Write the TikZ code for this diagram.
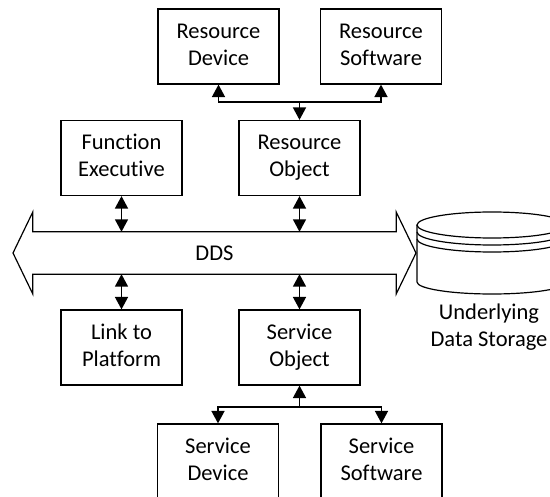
\documentclass[tikz,border=0pt]{standalone}
\usepackage{fontspec}
\setmainfont{Carlito}[Ligatures={NoCommon,NoContextual}]
\usetikzlibrary{arrows.meta}
% line strut: every text line gets the same height and depth
\newcommand{\ls}{\rule[-0.25em]{0pt}{0.95em}}
\begin{document}
\begin{tikzpicture}[x=1pt,y=1pt,
  font=\fontsize{22.5}{27}\selectfont,
  block/.style={draw, line width=1.2pt, minimum width=121pt, minimum height=75pt,
    inner sep=0pt, align=center},
  tip/.tip={Triangle[length=12.5pt,width=13pt]},
  arr/.style={line width=1.6pt, -tip},
  dbl/.style={line width=1.6pt, tip-tip},
  outline/.style={line width=1.2pt, line join=miter}]
\useasboundingbox (0,0) rectangle (550,-497);
\clip (0,0) rectangle (550,-497);

% blocks
\node[block] (rd) at (218.5,-46.5) {\ls Resource\\\ls Device};
\node[block] (rs) at (381,-46.5) {\ls Resource\\\ls Software};
\node[block] (fe) at (121.5,-158) {\ls Function\\\ls Executive};
\node[block] (ro) at (299.5,-158) {\ls Resource\\\ls Object};
\node[block] (lp) at (121.5,-347.5) {\ls Link to\\\ls Platform};
\node[block] (so) at (299.5,-347.5) {\ls Service\\\ls Object};
\node[block] (sd) at (218,-461.5) {\ls Service\\\ls Device};
\node[block] (ss) at (381.5,-461.5) {\ls Service\\\ls Software};

% DDS bus: shaft node plus double-headed outline
\node[minimum width=363pt, minimum height=42pt, inner sep=0pt] (bus) at (214.5,-253) {DDS};
\draw[outline] (13,-253) -- (bus.north west |- 0,-212) -- (bus.north west)
  -- (bus.north east) -- (bus.north east |- 0,-212) -- (416,-253)
  -- (bus.south east |- 0,-294) -- (bus.south east) -- (bus.south west)
  -- (bus.south west |- 0,-294) -- cycle;

% storage cylinder
\draw[outline] (417,-225) -- (417,-282) arc[start angle=180, end angle=360, x radius=75, y radius=12]
  -- (567,-225);
\draw[outline] (492,-225) ellipse[x radius=75, y radius=13];
\draw[outline] (417,-232) arc[start angle=180, end angle=360, x radius=75, y radius=13];
\draw[outline] (417,-239) arc[start angle=180, end angle=360, x radius=75, y radius=13];
\node[align=center, inner sep=0pt] (store) at (489,-327) {Underlying\\Data Storage};

% resource tree
\coordinate (jtop) at (299.5,-102);
\draw[arr] (jtop) -- (ro.north);
\draw[arr] (jtop) -| (rd.south);
\draw[arr] (jtop) -| (rs.south);

% bus links
\draw[dbl] (fe.south) -- (fe.south |- bus.north);
\draw[dbl] (ro.south) -- (ro.south |- bus.north);
\draw[dbl] (lp.north) -- (lp.north |- bus.south);
\draw[dbl] (so.north) -- (so.north |- bus.south);

% service tree
\coordinate (jbot) at (299.5,-407);
\draw[arr] (jbot) -- (so.south);
\draw[arr] (jbot) -| (sd.north);
\draw[arr] (jbot) -| (ss.north);
\end{tikzpicture}
\end{document}
